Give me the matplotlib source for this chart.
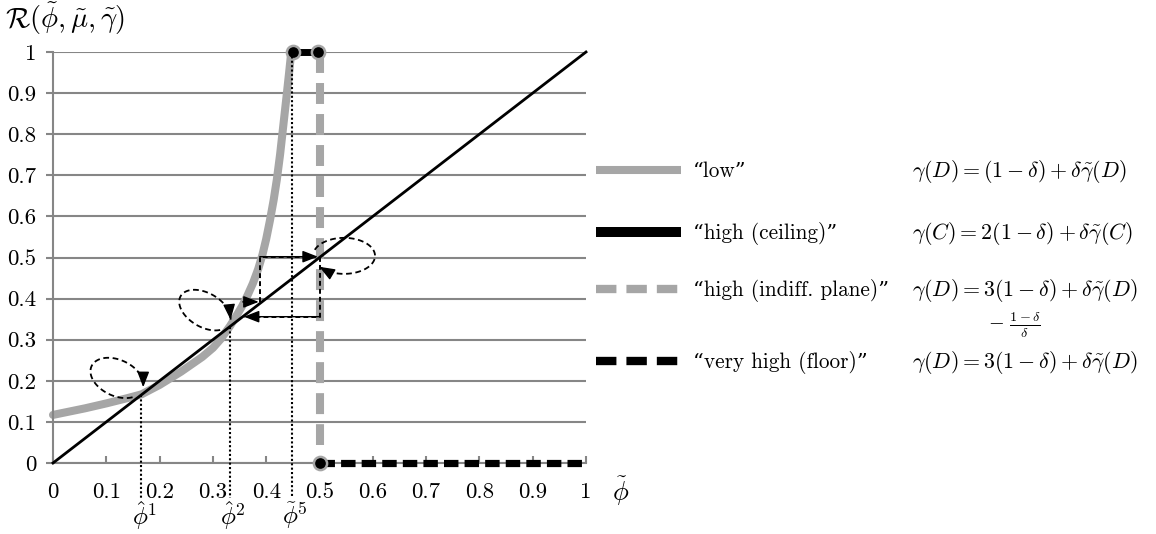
import numpy as np
import matplotlib
matplotlib.use("Agg")
import matplotlib.pyplot as plt
from matplotlib.lines import Line2D

plt.rcParams['mathtext.fontset'] = 'cm'
plt.rcParams['font.family'] = ['cmr10', 'DejaVu Serif']
plt.rcParams['axes.unicode_minus'] = False

# ---------------- data ----------------
x_ticks = [0, 0.1, 0.2, 0.3, 0.4, 0.5, 0.6, 0.7, 0.8, 0.9, 1.0]
x_tick_labels = ['0', '0.1', '0.2', '0.3', '0.4', '0.5', '0.6', '0.7', '0.8', '0.9', '1']
y_ticks = [0, 0.1, 0.2, 0.3, 0.4, 0.5, 0.6, 0.7, 0.8, 0.9, 1.0]
y_tick_labels = ['0', '0.1', '0.2', '0.3', '0.4', '0.5', '0.6', '0.7', '0.8', '0.9', '1']

low_x = [0.0, 0.03, 0.06, 0.10, 0.14, 0.166, 0.20, 0.24, 0.28, 0.30, 0.315, 0.332,
         0.345, 0.355, 0.365, 0.375, 0.385, 0.393, 0.400, 0.407, 0.414, 0.420,
         0.426, 0.432, 0.438, 0.443, 0.447]
low_y = [0.117, 0.125, 0.133, 0.145, 0.158, 0.167, 0.19, 0.222, 0.258, 0.28, 0.302, 0.333,
         0.36, 0.382, 0.408, 0.437, 0.472, 0.507, 0.545, 0.59, 0.64, 0.69,
         0.75, 0.82, 0.89, 0.95, 1.0]

diag_x = [0.0, 1.0]
diag_y = [0.0, 1.0]

ceiling_x = [0.451, 0.498]
ceiling_y = [1.0, 1.0]

indiff_x = [0.5, 0.5]
indiff_y = [1.0, 0.045]

floor_x = [0.5, 1.0]
floor_y = [0.0, 0.0]

node_x = [0.451, 0.498, 0.5]
node_y = [1.0, 1.0, 0.0]

fixed_x = [0.166, 0.332, 0.448]
fixed_top = [0.166, 0.332, 1.0]
fixed_bottom = -0.085
fixed_labels = [r'$\hat{\phi}^1$', r'$\hat{\phi}^2$', r'$\tilde{\phi}^5$']

cob_up_x = [0.388, 0.388, 0.497]
cob_up_y = [0.392, 0.502, 0.502]
cob_start_x = [0.356, 0.386]
cob_start_y = [0.392, 0.392]
cob_down_x = [0.501, 0.501, 0.358]
cob_down_y = [0.502, 0.356, 0.356]

# loops: centre (data), semi-axes (px), angle (deg), start/end parameter
loops = [
    dict(c=(0.120, 0.207), a=28, b=18, ang=-25, t0=-0.65, t1=-2 * np.pi + 0.15),
    dict(c=(0.285, 0.372), a=28, b=17, ang=-30, t0=-0.60, t1=-2 * np.pi + 0.27),
    dict(c=(0.546, 0.504), a=31, b=18, ang=0, t0=2.80, t1=-2.49),
]

legend_labels = ['\u201clow\u201d', '\u201chigh (ceiling)\u201d',
                 '\u201chigh (indiff. plane)\u201d', '\u201cvery high (floor)\u201d']
legend_formulas = [r'$\gamma(D) = (1-\delta) + \delta\tilde{\gamma}(D)$',
                   r'$\gamma(C) = 2(1-\delta) + \delta\tilde{\gamma}(C)$',
                   r'$\gamma(D) = 3(1-\delta) + \delta\tilde{\gamma}(D)$',
                   r'$\gamma(D) = 3(1-\delta) + \delta\tilde{\gamma}(D)$']
extra_formula = r'$-\ \frac{1-\delta}{\delta}$'

# ---------------- styles ----------------
GRID = '#868686'
LGRAY = '#a6a6a6'
W, H = 1156, 534

fig = plt.figure(figsize=(W / 100, H / 100), dpi=100)
ax = fig.add_axes([53 / W, 1 - 463 / H, 533 / W, 411 / H])
ax.set_xlim(0, 1)
ax.set_ylim(0, 1)

for s in ['top', 'right']:
    ax.spines[s].set_visible(False)
for s in ['left', 'bottom']:
    ax.spines[s].set_color(GRID)
    ax.spines[s].set_linewidth(1.5)
ax.yaxis.grid(True, color=GRID, lw=1.5)
ax.set_axisbelow(True)

ax.set_xticks(x_ticks)
ax.set_xticklabels(x_tick_labels)
ax.set_yticks(y_ticks)
ax.set_yticklabels(y_tick_labels)
ax.tick_params(axis='x', direction='in', length=5, width=1.5, color=GRID,
               labelsize=16.5, pad=14)
ax.tick_params(axis='y', direction='out', length=5, width=1.5, color=GRID,
               labelsize=16.5, pad=7)

# low curve
ax.plot(low_x, low_y, color=LGRAY, lw=5.8, solid_capstyle='round', solid_joinstyle='round',
        zorder=2, clip_on=False)
# indifference plane (grey dashed vertical)
ax.plot(indiff_x, indiff_y, color=LGRAY, lw=5.8, linestyle=(0, (2.6, 1.25)),
        dash_capstyle='butt', zorder=2, clip_on=False)
# floor
ax.plot(floor_x, floor_y, color='black', lw=5.2, linestyle=(0, (2.0, 0.85)),
        dash_capstyle='butt', zorder=3, clip_on=False)
# ceiling
ax.plot(ceiling_x, ceiling_y, color='black', lw=5.0, zorder=3, clip_on=False)
# nodes
ax.plot(node_x, node_y, linestyle='none', marker='o', ms=9.5, mfc='black',
        mec=LGRAY, mew=1.8, zorder=4, clip_on=False)
# diagonal
ax.plot(diag_x, diag_y, color='black', lw=2.0, zorder=5, clip_on=False)

# dotted verticals and labels
for fx, ft, lab in zip(fixed_x, fixed_top, fixed_labels):
    ax.plot([fx, fx], [ft, fixed_bottom], color='black', lw=1.5,
            linestyle=(0, (1, 1.1)), zorder=6, clip_on=False)
    ax.text(fx + 0.006, -0.127, lab, fontsize=18, ha='center', va='center')

# cobweb paths
cob_kw = dict(color='black', lw=1.4, linestyle=(0, (2.5, 1.6)), zorder=7, clip_on=False)
ax.plot(cob_up_x, cob_up_y, **cob_kw)
ax.plot(cob_down_x, cob_down_y, **cob_kw)
ar_kw = dict(arrowstyle='-|>,head_length=0.85,head_width=0.33', color='black',
             lw=1.0, shrinkA=0, shrinkB=0, mutation_scale=11)
ax.annotate('', xy=(cob_start_x[1], cob_start_y[1]), xytext=(cob_start_x[0], cob_start_y[0]),
            arrowprops=ar_kw, zorder=8)
ax.annotate('', xy=(cob_up_x[-1], cob_up_y[-1]), xytext=(cob_up_x[-2], cob_up_y[-2]),
            arrowprops=ar_kw, zorder=8)
ax.annotate('', xy=(cob_down_x[-1], cob_down_y[-1]), xytext=(cob_down_x[-2], cob_down_y[-2]),
            arrowprops=ar_kw, zorder=8)

# loops
wpx = 533.0
hpx = 411.0
for lp in loops:
    t = np.linspace(lp['t0'], lp['t1'], 120)
    th = np.radians(lp['ang'])
    dx = lp['a'] * np.cos(t) * np.cos(th) - lp['b'] * np.sin(t) * np.sin(th)
    dy = lp['a'] * np.cos(t) * np.sin(th) + lp['b'] * np.sin(t) * np.cos(th)
    xs = lp['c'][0] + dx / wpx
    ys = lp['c'][1] + dy / hpx
    ax.plot(xs, ys, color='black', lw=1.3, linestyle=(0, (3.2, 2.0)), zorder=7)
    ax.annotate('', xy=(xs[-1], ys[-1]), xytext=(xs[-7], ys[-7]),
                arrowprops=ar_kw, zorder=8)

# axis labels
fig.text(5 / W, 1 - 19 / H, r'$\mathcal{R}(\tilde{\phi}, \tilde{\mu}, \tilde{\gamma})$',
         fontsize=20.5, ha='left', va='center')
fig.text(621 / W, 1 - 491 / H, r'$\tilde{\phi}$', fontsize=19, ha='center', va='center')

# legend (manual)
rows = [170, 232, 289, 361]
styles = [dict(color=LGRAY, lw=5.8, solid_capstyle='butt'),
          dict(color='black', lw=7.2, solid_capstyle='butt'),
          dict(color=LGRAY, lw=6.0, linestyle=(0, (2.45, 1.2)), dash_capstyle='butt'),
          dict(color='black', lw=6.0, linestyle=(0, (2.45, 1.2)), dash_capstyle='butt')]
for r, st, lab, frm in zip(rows, styles, legend_labels, legend_formulas):
    yf = 1 - r / H
    fig.add_artist(Line2D([596 / W, 681 / W], [yf, yf], transform=fig.transFigure, **st))
    fig.text(693 / W, 1 - (r + 7) / H, lab, fontsize=15.3, ha='left', va='baseline')
    fig.text(912 / W, 1 - (r + 7) / H, frm, fontsize=15.8, ha='left', va='baseline')
fig.text(988 / W, 1 - 325 / H, extra_formula, fontsize=14.5, ha='left', va='center')

fig.savefig('out.png', dpi=100)
